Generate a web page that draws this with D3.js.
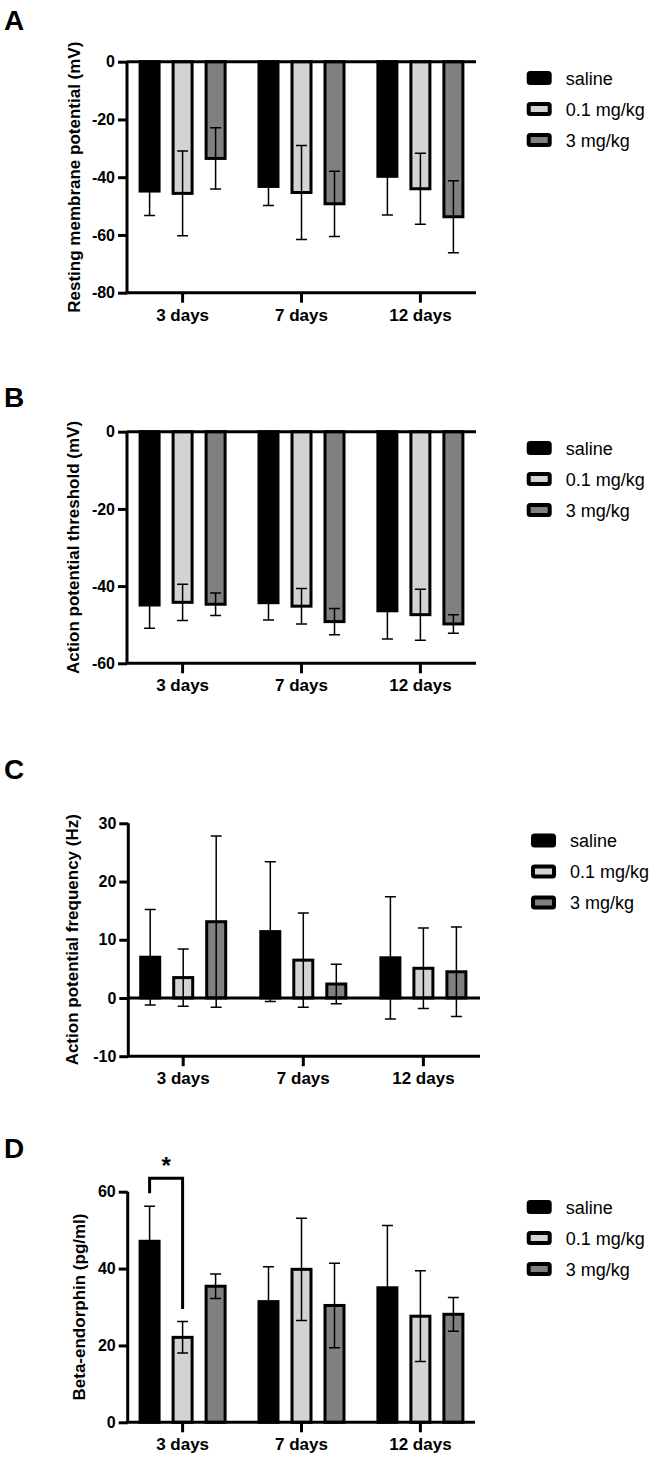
<!DOCTYPE html>
<html><head><meta charset="utf-8">
<script src="https://cdn.jsdelivr.net/npm/d3@7"></script>
<style>
body{margin:0;background:#fff}
svg{display:block}
text{font-family:"Liberation Sans",Arial,Helvetica,sans-serif}
</style>
</head><body><svg id="c" width="656" height="1457"></svg>
<script>
// ---- categories / series ----
const groups = ["3 days", "7 days", "12 days"];
const seriesNames = ["saline", "0.1 mg/kg", "3 mg/kg"];
const seriesColors = ["#000000", "#d3d3d3", "#808080"];

// ---- A: Resting membrane potential (mV) ----
const rmpSaline = [-44.8, -43.2, -39.7];
const rmpSalineSD = [8.5, 6.6, 13.4];
const rmpLow = [-45.6, -45.3, -44.0];
const rmpLowSD = [14.7, 16.3, 12.3];
const rmpHigh = [-33.5, -49.2, -53.7];
const rmpHighSD = [10.6, 11.3, 12.5];
const rmpTicks = [0, -20, -40, -60, -80];

// ---- B: Action potential threshold (mV) ----
const aptSaline = [-44.9, -44.3, -46.4];
const aptSalineSD = [6.0, 4.5, 7.3];
const aptLow = [-44.2, -45.2, -47.4];
const aptLowSD = [4.7, 4.6, 6.6];
const aptHigh = [-44.7, -49.2, -49.8];
const aptHighSD = [2.9, 3.4, 2.4];
const aptTicks = [0, -20, -40, -60];

// ---- C: Action potential frequency (Hz) ----
const apfSaline = [7.0, 11.4, 6.9];
const apfSalineSD = [8.2, 12.0, 10.5];
const apfLow = [3.5, 6.5, 5.1];
const apfLowSD = [4.9, 8.1, 6.9];
const apfHigh = [13.1, 2.4, 4.5];
const apfHighSD = [14.7, 3.4, 7.7];
const apfTicks = [30, 20, 10, 0, -10];

// ---- D: Beta-endorphin (pg/ml) ----
const bepSaline = [47.1, 31.4, 35.0];
const bepSalineSD = [9.1, 9.1, 16.2];
const bepLow = [22.1, 39.8, 27.6];
const bepLowSD = [4.1, 13.3, 11.8];
const bepHigh = [35.4, 30.4, 28.1];
const bepHighSD = [3.2, 11.0, 4.4];
const bepTicks = [0, 20, 40, 60];
// significance bracket (in data units)
const bepSig = {group: "3 days", from: "saline", to: "0.1 mg/kg", top: 63.5, fromEnd: 59.6, toEnd: 29.5, label: "*"};

const FONT = '"Liberation Sans",Arial,Helvetica,sans-serif';
const svg = d3.select("#c");

const panels = [
  {letter: "A", letterY: 29.5, title: "Resting membrane potential (mV)", titleX: 79.5,
   means: [rmpSaline, rmpLow, rmpHigh], sds: [rmpSalineSD, rmpLowSD, rmpHighSD], ticks: rmpTicks,
   domain: [0, -80], range: [61.7, 292.7], axisX: 127, xRight: 476, gx0: 182.6, step: 118.9,
   legX: 526.7, legY: 78},
  {letter: "B", letterY: 406.5, title: "Action potential threshold (mV)", titleX: 78.5,
   means: [aptSaline, aptLow, aptHigh], sds: [aptSalineSD, aptLowSD, aptHighSD], ticks: aptTicks,
   domain: [0, -60], range: [431.7, 663.3], axisX: 127, xRight: 476, gx0: 182.6, step: 118.9,
   legX: 526.7, legY: 448},
  {letter: "C", letterY: 779, title: "Action potential frequency (Hz)", titleX: 78,
   means: [apfSaline, apfLow, apfHigh], sds: [apfSalineSD, apfLowSD, apfHighSD], ticks: apfTicks,
   domain: [30, -10], range: [823.3, 1056.2], axisX: 128.3, xRight: 480, gx0: 183.2, step: 120.1,
   legX: 531, legY: 840.5},
  {letter: "D", letterY: 1158.3, title: "Beta-endorphin (pg/ml)", titleX: 84.5,
   means: [bepSaline, bepLow, bepHigh], sds: [bepSalineSD, bepLowSD, bepHighSD], ticks: bepTicks,
   domain: [60, 0], range: [1191.7, 1422.3], axisX: 127.7, xRight: 475, gx0: 182.6, step: 118.9,
   legX: 526.7, legY: 1207, sig: bepSig}
];

panels.forEach(drawPanel);

function drawPanel(cfg) {
  const g = svg.append("g");
  const xG = d3.scaleBand().domain(groups)
    .range([cfg.gx0 - cfg.step / 2, cfg.gx0 - cfg.step / 2 + 3 * cfg.step]).padding(0);
  const xS = d3.scaleBand().domain(seriesNames).range([-44, 44]).paddingInner(1 / 3);
  const y = d3.scaleLinear().domain(cfg.domain).range(cfg.range);
  const yMax = d3.max(cfg.domain), yMin = d3.min(cfg.domain);
  const cx = (grp, s) => xG(grp) + xG.bandwidth() / 2 + xS(s) + xS.bandwidth() / 2;

  const rows = [];
  seriesNames.forEach((s, si) => groups.forEach((grp, gi) => {
    rows.push({s, si, grp, v: cfg.means[si][gi], sd: cfg.sds[si][gi]});
  }));

  // bars
  const bw = xS.bandwidth();
  g.selectAll("rect.bar").data(rows).join("rect")
    .attr("class", "bar")
    .attr("x", d => cx(d.grp, d.s) - bw / 2 + 1.5)
    .attr("width", bw - 3)
    .attr("y", d => Math.min(y(d.v), y(0)))
    .attr("height", d => Math.abs(y(d.v) - y(0)))
    .attr("fill", d => seriesColors[d.si])
    .attr("stroke", "#000").attr("stroke-width", 3);

  // error bars
  const cap = 5.5;
  const eb = g.selectAll("g.err").data(rows).join("g").attr("class", "err")
    .attr("stroke", "#000").attr("stroke-width", 1.5).attr("fill", "none");
  eb.append("path").attr("d", d => {
    const x = cx(d.grp, d.s), y1 = y(d.v + d.sd), y2 = y(d.v - d.sd);
    return `M${x},${y1}V${y2}M${x - cap},${y1}H${x + cap}M${x - cap},${y2}H${x + cap}`;
  });

  // axis lines
  const yTop = y(yMax), yBot = y(yMin);
  g.append("path")
    .attr("d", `M${cfg.axisX},${yTop}V${yBot}H${cfg.xRight}`)
    .attr("fill", "none").attr("stroke", "#000").attr("stroke-width", 3);
  if (yMin < 0) {
    g.append("line").attr("x1", cfg.axisX).attr("x2", cfg.xRight)
      .attr("y1", y(0)).attr("y2", y(0))
      .attr("stroke", "#000").attr("stroke-width", 3);
  }

  // x axis ticks
  const xa = g.append("g").attr("transform", `translate(0,${yBot})`)
    .call(d3.axisBottom(xG).tickSize(10).tickPadding(6).tickSizeOuter(0));
  xa.select(".domain").remove();
  xa.selectAll(".tick line").attr("stroke", "#000").attr("stroke-width", 3);
  xa.selectAll(".tick text").attr("fill", "#000")
    .style("font-family", FONT).style("font-size", "17px").style("font-weight", "bold");

  // y axis ticks
  const ya = g.append("g").attr("transform", `translate(${cfg.axisX},0)`)
    .call(d3.axisLeft(y).tickValues(cfg.ticks).tickFormat(d => String(d)).tickSize(9).tickPadding(3).tickSizeOuter(0));
  ya.select(".domain").remove();
  ya.selectAll(".tick line").attr("stroke", "#000").attr("stroke-width", 3);
  ya.selectAll(".tick text").attr("fill", "#000")
    .style("font-family", FONT).style("font-size", "16px").style("font-weight", "bold");

  // y title
  g.append("text")
    .attr("transform", `translate(${cfg.titleX},${(yTop + yBot) / 2}) rotate(-90)`)
    .attr("text-anchor", "middle")
    .style("font-size", "17px").style("font-weight", "bold")
    .text(cfg.title);

  // panel letter
  g.append("text").attr("x", 4).attr("y", cfg.letterY)
    .style("font-size", "28px").style("font-weight", "bold").text(cfg.letter);

  // legend
  const lg = g.append("g");
  seriesNames.forEach((s, si) => {
    const cy = cfg.legY + si * 31;
    lg.append("rect").attr("x", cfg.legX + 2).attr("y", cy - 5).attr("width", 21).attr("height", 10)
      .attr("rx", 1.5)
      .attr("fill", seriesColors[si]).attr("stroke", "#000").attr("stroke-width", 4);
    lg.append("text").attr("x", cfg.legX + 39).attr("y", cy + 6.5)
      .style("font-size", "18px").text(s);
  });

  // significance
  if (cfg.sig) {
    const s = cfg.sig;
    const x1 = cx(s.group, s.from), x2 = cx(s.group, s.to);
    g.append("path")
      .attr("d", `M${x1},${y(s.fromEnd)}V${y(s.top)}H${x2}V${y(s.toEnd)}`)
      .attr("fill", "none").attr("stroke", "#000").attr("stroke-width", 3);
    g.append("text").attr("x", (x1 + x2) / 2).attr("y", y(s.top) - 4)
      .attr("text-anchor", "middle")
      .style("font-size", "24px").style("font-weight", "bold").text(s.label);
  }
}
</script>
</body></html>
